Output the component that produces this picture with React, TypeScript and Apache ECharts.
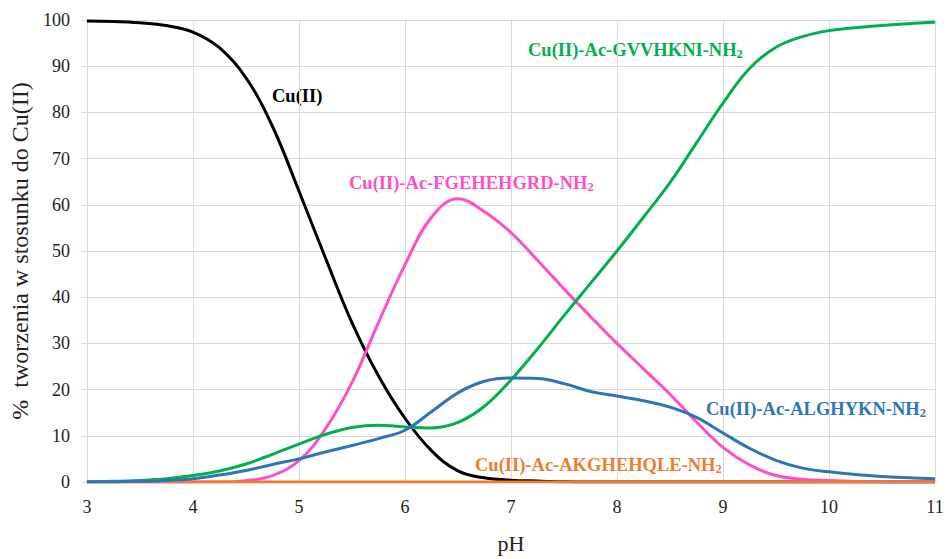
import React, { useEffect, useRef } from "react";
import * as echarts from "echarts";

const pH = [3, 3.25, 3.5, 3.75, 4, 4.25, 4.5, 4.75, 5, 5.25, 5.5, 5.75, 6, 6.25, 6.5, 6.75, 7, 7.25, 7.5, 7.75, 8, 8.25, 8.5, 8.75, 9, 9.25, 9.5, 9.75, 10, 10.25, 10.5, 10.75, 11];

const cuFree = [99.8, 99.7, 99.4, 98.8, 97.4, 94, 87.5, 77, 63, 48.5, 34.5, 23, 13.8, 6.8, 2.4, 0.9, 0.4, 0.2, 0.05, 0, 0, 0, 0, 0, 0, 0, 0, 0, 0, 0, 0, 0, 0];
const cuFGEHEHGRD = [0, 0, 0, 0, 0, 0, 0.3, 1.4, 4.6, 11.5, 21.5, 34.5, 47, 57.3, 61.3, 58.5, 54, 48, 41.8, 35.8, 30, 24.5, 19, 13, 7.5, 3.7, 1.4, 0.6, 0.3, 0.1, 0.05, 0, 0];
const cuGVVHKNI = [0.05, 0.15, 0.35, 0.7, 1.4, 2.4, 3.9, 6, 8.2, 10.3, 11.8, 12.3, 11.9, 11.7, 12.9, 16.4, 22.1, 28.8, 36, 43, 50, 57.3, 64.8, 73.4, 82, 89.5, 94.1, 96.4, 97.7, 98.3, 98.8, 99.2, 99.5];
const cuALGHYKN = [0, 0.05, 0.15, 0.35, 0.7, 1.5, 2.5, 3.8, 5, 6.5, 7.9, 9.4, 11.2, 15.2, 19.3, 21.8, 22.5, 22.4, 21.3, 19.6, 18.6, 17.6, 16.2, 14, 10.6, 7.3, 4.7, 3, 2.2, 1.6, 1.2, 0.9, 0.7];
const cuAKGHEHQLE = [0, 0, 0, 0, 0, 0, 0, 0, 0, 0, 0, 0, 0, 0, 0, 0, 0, 0, 0, 0, 0, 0, 0, 0, 0, 0, 0, 0, 0, 0, 0, 0, 0];

const seriesDefs = [
  { name: "Cu(II)", values: cuFree, color: "#000000" },
  { name: "Cu(II)-Ac-FGEHEHGRD-NH2", values: cuFGEHEHGRD, color: "#FF4FC8" },
  { name: "Cu(II)-Ac-AKGHEHQLE-NH2", values: cuAKGHEHQLE, color: "#ED7D31" },
  { name: "Cu(II)-Ac-GVVHKNI-NH2", values: cuGVVHKNI, color: "#00B050" },
  { name: "Cu(II)-Ac-ALGHYKN-NH2", values: cuALGHYKN, color: "#2E75B6" },
];

const FONT = "Liberation Serif, Times New Roman, serif";

function label(x: number, y: number, main: string, sub: string | null, color: string) {
  const text = sub ? `{a|${main}}{s|${sub}}` : `{a|${main}}`;
  return {
    type: "text",
    x,
    y,
    style: {
      text,
      fill: color,
      rich: {
        a: { fontSize: 18.5, fontWeight: "bold", fontFamily: FONT, fill: color, lineHeight: 20 },
        s: { fontSize: 12.5, fontWeight: "bold", fontFamily: FONT, fill: color, verticalAlign: "bottom", lineHeight: 20 },
      },
    },
  };
}

export default function App() {
  const ref = useRef<HTMLDivElement>(null);
  useEffect(() => {
    const chart = echarts.init(ref.current!, null, { renderer: "svg" });
    chart.setOption({
      animation: false,
      backgroundColor: "#ffffff",
      textStyle: { fontFamily: FONT },
      grid: { left: 83, right: 12, top: 20, bottom: 72 },
      xAxis: {
        type: "value",
        min: 3,
        max: 11,
        interval: 1,
        name: "pH",
        nameLocation: "middle",
        nameGap: 50,
        nameTextStyle: { fontFamily: FONT, fontSize: 22, color: "#222" },
        axisLine: { show: false },
        axisTick: { show: false },
        axisLabel: { fontFamily: FONT, fontSize: 18, color: "#222", margin: 16 },
        splitLine: { show: true, lineStyle: { color: "#d9d9d9", width: 1 } },
      },
      yAxis: {
        type: "value",
        min: 0,
        max: 100,
        interval: 10,
        name: "%  tworzenia w stosunku do Cu(II)",
        nameLocation: "middle",
        nameGap: 52,
        nameRotate: 90,
        nameTextStyle: { fontFamily: FONT, fontSize: 24, color: "#222" },
        axisLine: { show: false },
        axisTick: { show: true, length: 5, lineStyle: { color: "#d9d9d9" } },
        axisLabel: { fontFamily: FONT, fontSize: 18, color: "#222", margin: 17 },
        splitLine: { show: true, lineStyle: { color: "#d9d9d9", width: 1 } },
      },
      series: seriesDefs.map((s) => ({
        type: "line",
        name: s.name,
        data: pH.map((p, i) => [p, s.values[i]]),
        smooth: 0.4,
        showSymbol: false,
        symbol: "none",
        lineStyle: { color: s.color, width: 3 },
        itemStyle: { color: s.color },
      })),
      graphic: [
        label(272, 86, "Cu(II)", null, "#000000"),
        label(349, 173, "Cu(II)-Ac-FGEHEHGRD-NH", "2", "#FF4FC8"),
        label(528, 40, "Cu(II)-Ac-GVVHKNI-NH", "2", "#00B050"),
        label(706, 399, "Cu(II)-Ac-ALGHYKN-NH", "2", "#2E75B6"),
        label(475, 455, "Cu(II)-Ac-AKGHEHQLE-NH", "2", "#ED7D31"),
      ],
    });
    return () => chart.dispose();
  }, []);
  return <div ref={ref} style={{ position: "fixed", left: 0, top: 0, width: 947, height: 559 }} />;
}
